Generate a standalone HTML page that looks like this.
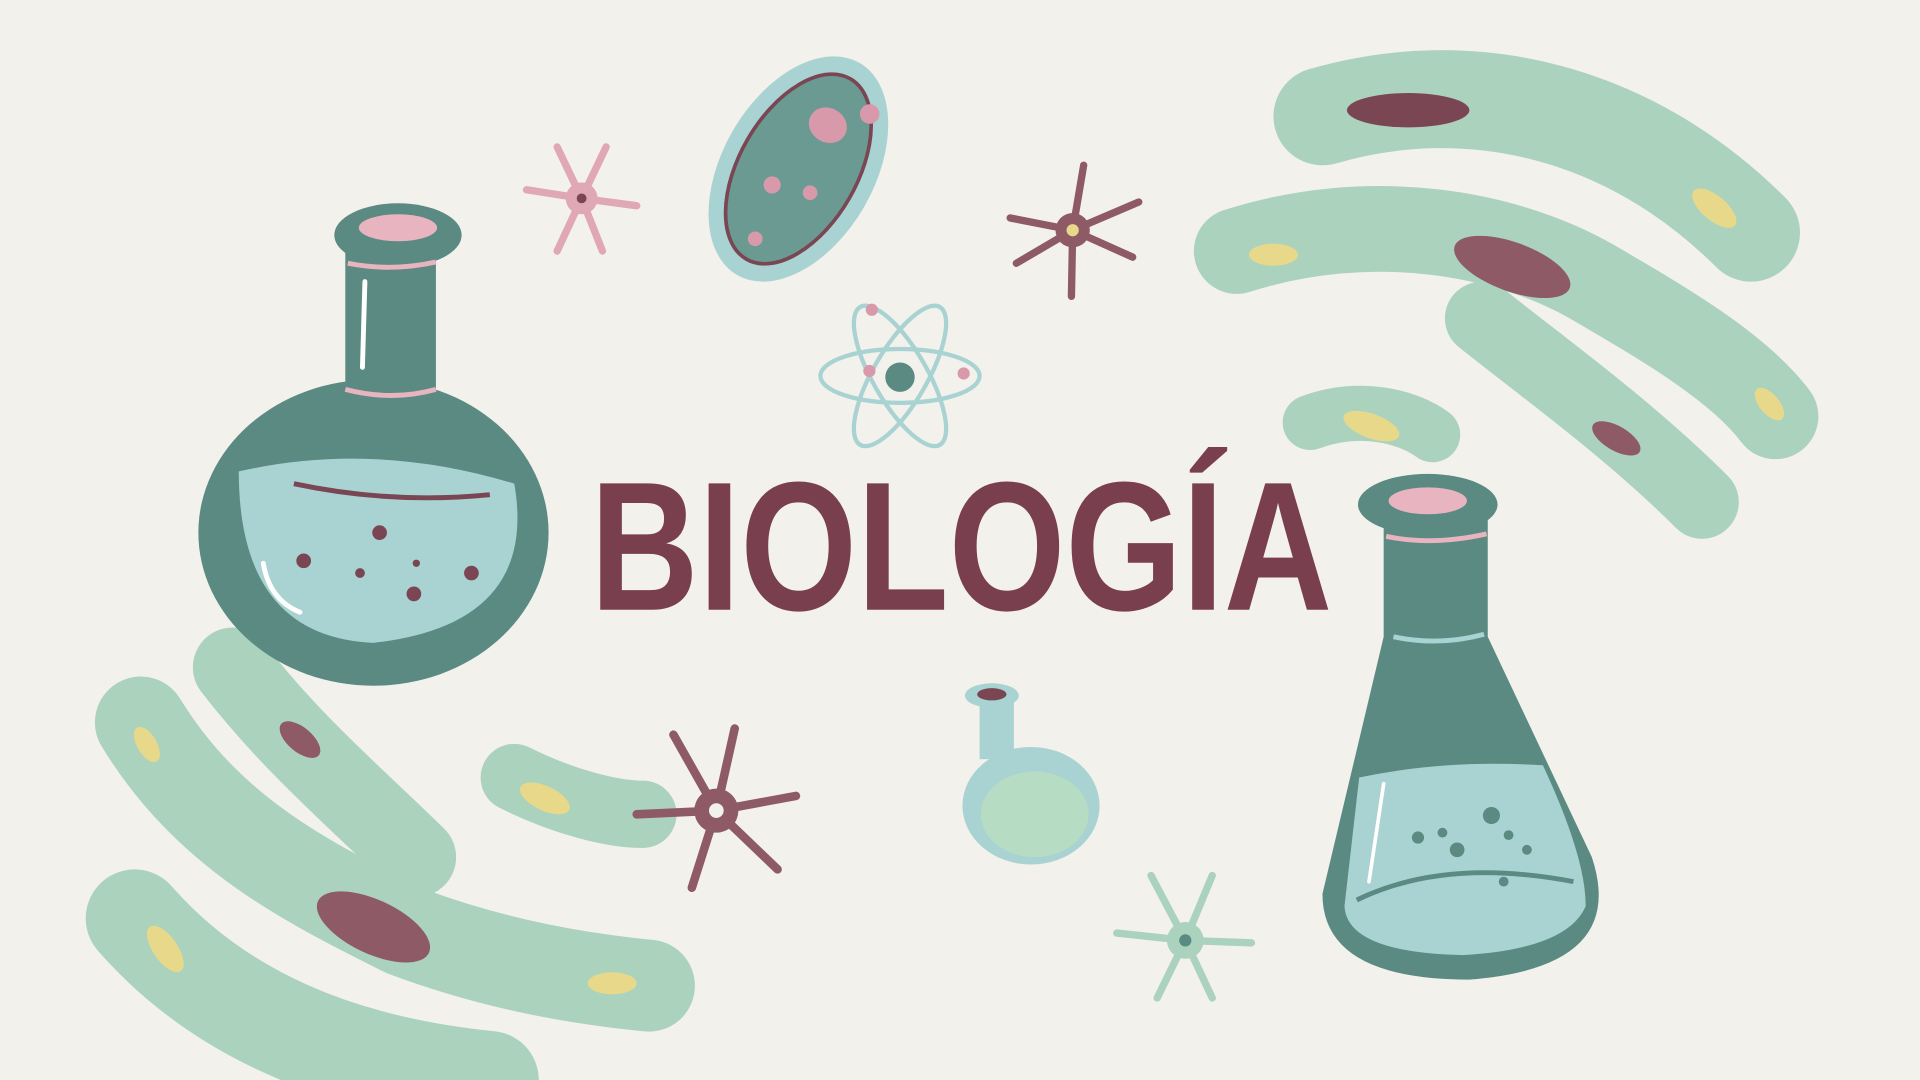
<!DOCTYPE html>
<html><head><meta charset="utf-8"><style>
html,body{margin:0;padding:0;width:1920px;height:1080px;overflow:hidden;background:#f3f1ec}
svg{display:block}
</style></head><body>
<svg width="1920" height="1080" viewBox="0 0 1568 882" xmlns="http://www.w3.org/2000/svg">
<rect width="1568" height="882" fill="#f3f1ec"/>

<g fill="none" stroke="#abd2bd" stroke-linecap="round" stroke-linejoin="round">
  <path d="M1080 95 C1200 60 1330 90 1430 190" stroke-width="80"/>
  <path d="M1010 205 C1120 170 1230 190 1300 230 C1360 265 1420 300 1450 340" stroke-width="70"/>
  <path d="M1210 260 C1260 300 1330 350 1390 410" stroke-width="60"/>
  <path d="M1070 345 C1110 330 1150 340 1170 355" stroke-width="45"/>
  <ellipse cx="1150" cy="90" rx="50" ry="14" fill="#7a4654" stroke="none"/>
  <ellipse cx="1235" cy="218" rx="50" ry="20" fill="#8e5a66" stroke="none" transform="rotate(20 1235 218)"/>
  <ellipse cx="1320" cy="358" rx="22" ry="10" fill="#8e5a66" stroke="none" transform="rotate(30 1320 358)"/>
  <ellipse cx="1400" cy="170" rx="22" ry="10" fill="#e8d98a" stroke="none" transform="rotate(40 1400 170)"/>
  <ellipse cx="1040" cy="208" rx="20" ry="9" fill="#e8d98a" stroke="none"/>
  <ellipse cx="1120" cy="348" rx="24" ry="10" fill="#e8d98a" stroke="none" transform="rotate(20 1120 348)"/>
  <ellipse cx="1445" cy="330" rx="16" ry="8" fill="#e8d98a" stroke="none" transform="rotate(50 1445 330)"/>
</g>

<g fill="none" stroke="#abd2bd" stroke-linecap="round" stroke-linejoin="round">
  <path d="M190 545 C240 610 300 660 340 700" stroke-width="65"/>
  <path d="M115 590 C170 680 250 720 330 760 C410 790 480 800 530 805" stroke-width="75"/>
  <path d="M110 750 C180 830 280 870 400 882" stroke-width="80"/>
  <path d="M420 635 C460 655 500 665 525 665" stroke-width="55"/>
  <ellipse cx="245" cy="604" rx="20" ry="10" fill="#8e5a66" stroke="none" transform="rotate(40 245 604)"/>
  <ellipse cx="305" cy="757" rx="50" ry="22" fill="#8e5a66" stroke="none" transform="rotate(25 305 757)"/>
  <ellipse cx="120" cy="608" rx="16" ry="8" fill="#e8d98a" stroke="none" transform="rotate(60 120 608)"/>
  <ellipse cx="135" cy="775" rx="22" ry="10" fill="#e8d98a" stroke="none" transform="rotate(55 135 775)"/>
  <ellipse cx="445" cy="652" rx="22" ry="10" fill="#e8d98a" stroke="none" transform="rotate(25 445 652)"/>
  <ellipse cx="500" cy="803" rx="20" ry="9" fill="#e8d98a" stroke="none"/>
</g>

<g>
  <rect x="282" y="190" width="74" height="150" fill="#5b8a82"/>
  <ellipse cx="305" cy="435" rx="143" ry="125" fill="#5b8a82"/>
  <ellipse cx="325" cy="192" rx="52" ry="26" fill="#5b8a82"/>
  <ellipse cx="325" cy="186" rx="32" ry="11" fill="#e8b4c0"/>
  <path d="M284 215 Q320 222 356 214" stroke="#e8b4c0" stroke-width="4" fill="none"/>
  <path d="M282 318 Q320 328 356 318" stroke="#e8b4c0" stroke-width="4" fill="none"/>
  <path d="M195 385 Q305 360 420 395 Q440 510 305 525 Q195 520 195 385Z" fill="#a9d3d2"/>
  <path d="M240 395 Q320 412 400 404" stroke="#7a4654" stroke-width="4" fill="none"/>
  <g fill="#7a4654"><circle cx="310" cy="435" r="6"/><circle cx="248" cy="458" r="6"/><circle cx="294" cy="468" r="4"/><circle cx="338" cy="485" r="6"/><circle cx="385" cy="468" r="6"/><circle cx="340" cy="460" r="3"/></g>
  <path d="M215 460 Q220 490 245 500" stroke="#fff" stroke-width="4" fill="none" stroke-linecap="round"/>
  <path d="M298 230 L296 300" stroke="#fff" stroke-width="4" fill="none" stroke-linecap="round"/>
</g>

<g>
  <path d="M1130 420 L1215 420 L1215 520 L1300 700 Q1330 790 1200 800 Q1080 800 1080 730 L1130 520Z" fill="#5b8a82"/>
  <ellipse cx="1166" cy="412" rx="57" ry="25" fill="#5b8a82"/>
  <ellipse cx="1166" cy="409" rx="32" ry="11" fill="#e8b4c0"/>
  <path d="M1132 438 Q1170 446 1214 436" stroke="#e8b4c0" stroke-width="4" fill="none"/>
  <path d="M1138 520 Q1175 528 1212 518" stroke="#a9d3d2" stroke-width="4" fill="none"/>
  <path d="M1110 635 Q1180 620 1260 625 Q1295 700 1295 740 Q1280 775 1195 780 Q1100 778 1098 740Z" fill="#a9d3d2"/>
  <path d="M1108 735 Q1180 700 1285 720" stroke="#5b8a82" stroke-width="4" fill="none"/>
  <g fill="#5b8a82"><circle cx="1158" cy="684" r="5"/><circle cx="1178" cy="680" r="4"/><circle cx="1190" cy="694" r="6"/><circle cx="1218" cy="666" r="7"/><circle cx="1232" cy="682" r="4"/><circle cx="1247" cy="694" r="4"/><circle cx="1228" cy="720" r="4"/></g>
  <path d="M1130 640 L1118 720" stroke="#fff" stroke-width="3" fill="none" stroke-linecap="round"/>
</g>

<g>
  <rect x="800" y="570" width="28" height="50" fill="#a9d3d2"/>
  <ellipse cx="842" cy="658" rx="56" ry="48" fill="#a9d3d2"/>
  <ellipse cx="810" cy="568" rx="22" ry="10" fill="#a9d3d2"/>
  <ellipse cx="810" cy="567" rx="12" ry="5" fill="#7a4654"/>
  <ellipse cx="845" cy="665" rx="44" ry="35" fill="#b6dcc3"/>
</g>

<g transform="rotate(30 652 138)">
  <ellipse cx="652" cy="138" rx="62" ry="100" fill="#a9d3d2"/>
  <ellipse cx="652" cy="138" rx="48" ry="85" fill="#6a9a92" stroke="#7a4654" stroke-width="3"/>
  <ellipse cx="655" cy="95" rx="16" ry="14" fill="#d89aaa"/>
  <circle cx="680" cy="70" r="8" fill="#d89aaa"/>
  <circle cx="640" cy="160" r="7" fill="#d89aaa"/>
  <circle cx="670" cy="150" r="6" fill="#d89aaa"/>
  <circle cx="650" cy="205" r="6" fill="#d89aaa"/>
</g>

<g fill="none" stroke="#a9d3d2" stroke-width="3.5">
  <ellipse cx="735" cy="307" rx="65" ry="22"/>
  <ellipse cx="735" cy="307" rx="65" ry="22" transform="rotate(60 735 307)"/>
  <ellipse cx="735" cy="307" rx="65" ry="22" transform="rotate(-60 735 307)"/>
  <circle cx="735" cy="308" r="12" fill="#5b8a82" stroke="none"/>
  <circle cx="712" cy="253" r="5" fill="#d89aaa" stroke="none"/>
  <circle cx="710" cy="303" r="5" fill="#d89aaa" stroke="none"/>
  <circle cx="787" cy="305" r="5" fill="#d89aaa" stroke="none"/>
</g>

<g stroke="#e0a8b4" stroke-width="6" stroke-linecap="round" fill="none">
  <path d="M475 162 L455 120 M475 162 L495 120 M475 162 L430 155 M475 162 L520 168 M475 162 L455 205 M475 162 L492 205"/>
  <circle cx="475" cy="162" r="13" fill="#e0a8b4" stroke="none"/><circle cx="475" cy="162" r="4" fill="#7a4654" stroke="none"/>
</g>
<g stroke="#8e5a66" stroke-width="6" stroke-linecap="round" fill="none">
  <path d="M876 188 L885 135 M876 188 L825 178 M876 188 L930 165 M876 188 L830 215 M876 188 L875 242 M876 188 L925 210"/>
  <circle cx="876" cy="188" r="14" fill="#8e5a66" stroke="none"/><circle cx="876" cy="188" r="5" fill="#e8d98a" stroke="none"/>
</g>
<g stroke="#8e5a66" stroke-width="7" stroke-linecap="round" fill="none">
  <path d="M585 662 L550 600 M585 662 L600 595 M585 662 L520 665 M585 662 L650 650 M585 662 L565 725 M585 662 L635 710"/>
  <circle cx="585" cy="662" r="18" fill="#8e5a66" stroke="none"/><circle cx="585" cy="662" r="6" fill="#f3f1ec" stroke="none"/>
</g>
<g stroke="#abd2bd" stroke-width="6" stroke-linecap="round" fill="none">
  <path d="M968 768 L940 715 M968 768 L990 715 M968 768 L912 762 M968 768 L1022 770 M968 768 L945 815 M968 768 L990 815"/>
  <circle cx="968" cy="768" r="15" fill="#abd2bd" stroke="none"/><circle cx="968" cy="768" r="5" fill="#5b8a82" stroke="none"/>
</g>

<text x="482" y="498" font-family="'Liberation Sans Narrow','Liberation Sans',sans-serif" font-weight="bold" font-size="150" fill="#7a3f4e" textLength="606" lengthAdjust="spacingAndGlyphs">BIOLOGÍA</text>
</svg>
</body></html>
